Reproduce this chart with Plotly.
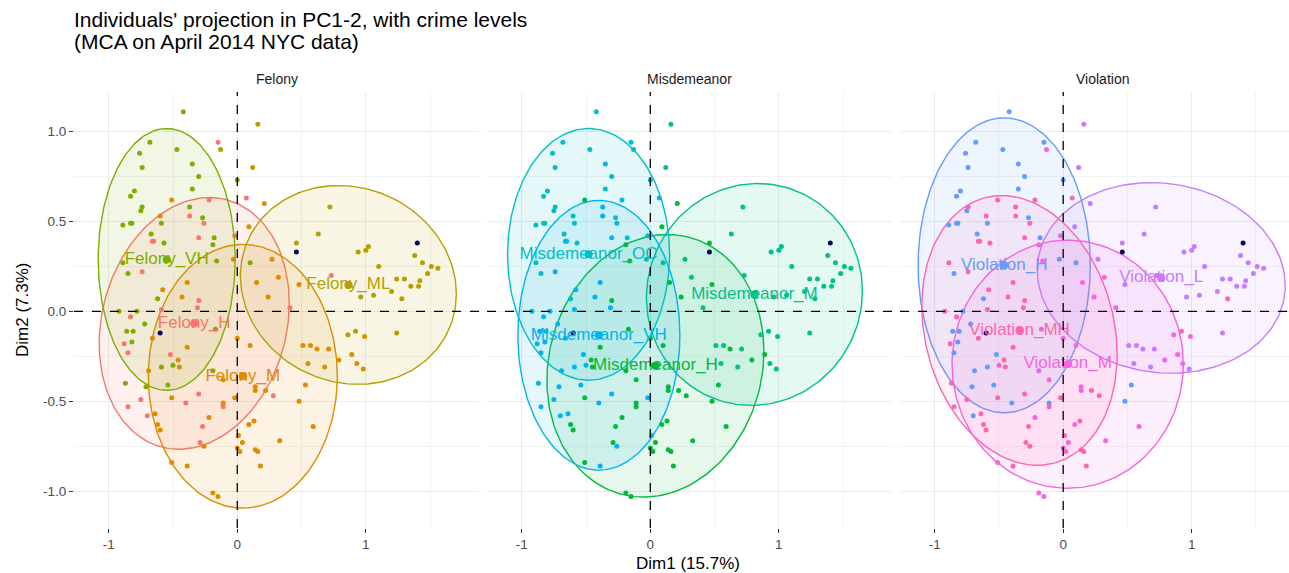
import numpy as np
import plotly.graph_objects as go

# ---------------- data ----------------
ind_x = [-0.42, 0.16, -0.15, -0.13, -0.68, -0.47, -0.76, -0.74, -0.35, 0.12,
         -0.30, 0.00, -0.35, -0.80, -0.83, -0.74, -0.75, -0.51, -0.22, 0.07,
         0.21, -0.37, -0.60, -0.37, -0.27, -0.89, -0.83, -0.82, -0.59, -0.26,
         0.09, 0.72, -0.67, -0.30, -0.18, -0.02, -0.66, -0.65, -0.57, -0.19,
         0.63, 0.46, 1.02, 1.00, 0.94, 1.38, 1.44, 1.51, 1.56, 1.48,
         1.10, 0.27, 0.10, -0.03, -0.16, -0.89, -0.85, -0.74, 0.15, 0.32,
         0.73, 0.48, 1.24, 1.30, 1.35, 1.42, 1.41, 1.20, 1.06, 0.96,
         1.28, -0.39, -0.58, -0.43, -0.62, 0.24, -0.30, 0.41, -0.31, -0.59,
         -0.78, -0.92, -0.83, -0.72, -0.86, -0.81, -0.17, -0.88, -0.82, -0.85,
         -0.66, -0.39, 0.00, 0.10, -0.52, -0.46, -0.50, -0.45, -0.59, -0.69,
         -0.19, 0.51, 0.57, 0.62, 0.71, 0.79, 0.55, 0.68, 0.86, 0.92,
         0.99, 1.24, 0.89, 0.93, 0.98, -0.87, -0.71, -0.54, -0.11, 0.14,
         0.22, 0.14, 0.53, 0.28, -0.02, -0.51, -0.75, -0.30, -0.40, -0.11,
         -0.11, -0.85, -0.70, -0.64, -0.22, 0.48, -0.62, -0.60, -0.27, 0.09,
         0.13, 0.59, 0.01, 0.04, 0.33, -0.29, -0.26, 0.00, 0.02, 0.14,
         0.16, -0.51, -0.39, 0.18, -0.19, -0.15]
ind_y = [1.11, 1.04, 0.94, 0.90, 0.94, 0.90, 0.88, 0.80, 0.82, 0.80,
         0.75, 0.73, 0.68, 0.67, 0.64, 0.58, 0.56, 0.62, 0.62, 0.63,
         0.60, 0.58, 0.53, 0.53, 0.52, 0.48, 0.49, 0.49, 0.49, 0.49,
         0.47, 0.58, 0.43, 0.41, 0.41, 0.42, 0.39, 0.39, 0.38, 0.37,
         0.43, 0.38, 0.36, 0.34, 0.33, 0.31, 0.27, 0.25, 0.24, 0.21,
         0.25, 0.29, 0.27, 0.29, 0.28, 0.27, 0.21, 0.22, 0.16, 0.19,
         0.20, 0.15, 0.18, 0.18, 0.14, 0.17, 0.14, 0.11, 0.09, 0.08,
         0.07, 0.16, 0.12, 0.08, 0.07, 0.08, 0.06, 0.02, 0.02, 0.01,
         0.00, 0.00, -0.03, -0.07, -0.11, -0.11, -0.10, -0.18, -0.17, -0.23,
         -0.15, -0.20, -0.15, -0.19, -0.24, -0.27, -0.30, -0.31, -0.31, -0.33,
         -0.33, -0.19, -0.19, -0.21, -0.21, -0.27, -0.29, -0.31, -0.13, -0.11,
         -0.14, -0.12, -0.24, -0.29, -0.32, -0.40, -0.42, -0.41, -0.38, -0.42,
         -0.44, -0.44, -0.41, -0.47, -0.48, -0.48, -0.49, -0.46, -0.51, -0.51,
         -0.53, -0.53, -0.58, -0.57, -0.59, -0.50, -0.63, -0.66, -0.64, -0.63,
         -0.61, -0.64, -0.69, -0.73, -0.72, -0.73, -0.75, -0.76, -0.78, -0.77,
         -0.78, -0.84, -0.86, -0.86, -1.01, -1.03]
felony = ["VH", "ML", "H", "ML", "VH", "VH", "VH", "VH", "VH", "ML",
          "VH", "VH", "VH", "VH", "VH", "VH", "VH", "M", "H", "H",
          "M", "VH", "M", "H", "VH", "VH", "VH", "VH", "VH", "H",
          "M", "ML", "VH", "H", "VH", "M", "H", "H", "VH", "VH",
          "ML", "ML", "ML", "ML", "ML", "ML", "ML", "ML", "ML", "ML",
          "ML", "M", "VH", "M", "VH", "VH", "VH", "H", "M", "M",
          "H", "M", "ML", "ML", "ML", "ML", "ML", "ML", "ML", "ML",
          "ML", "M", "M", "M", "VH", "M", "H", "H", "H", "H",
          "VH", "VH", "H", "VH", "VH", "VH", "VH", "H", "VH", "H",
          "M", "M", "M", "M", "H", "M", "VH", "M", "VH", "M",
          "VH", "M", "M", "M", "M", "M", "M", "M", "ML", "ML",
          "M", "ML", "M", "M", "M", "VH", "VH", "VH", "M", "M",
          "M", "M", "M", "H", "M", "M", "H", "H", "H", "M",
          "H", "H", "H", "M", "M", "M", "M", "M", "H", "M",
          "M", "M", "M", "M", "M", "H", "M", "M", "M", "M",
          "M", "M", "M", "M", "M", "M"]
misdemeanor = ["OC", "M", "OC", "OC", "OC", "OC", "OC", "OC", "VH", "M",
               "OC", "OC", "OC", "OC", "OC", "OC", "OC", "H", "VH", "VH",
               "H", "VH", "OC", "VH", "OC", "OC", "OC", "OC", "OC", "VH",
               "H", "M", "OC", "VH", "OC", "OC", "VH", "VH", "OC", "H",
               "M", "H", "M", "M", "M", "M", "M", "M", "M", "M",
               "M", "M", "M", "OC", "H", "OC", "OC", "VH", "H", "M",
               "M", "H", "M", "M", "M", "M", "M", "M", "M", "M",
               "M", "VH", "VH", "VH", "OC", "H", "H", "M", "VH", "VH",
               "VH", "OC", "VH", "VH", "VH", "OC", "H", "VH", "VH", "VH",
               "VH", "H", "H", "H", "VH", "H", "VH", "H", "VH", "VH",
               "H", "M", "M", "H", "M", "H", "M", "M", "M", "M",
               "M", "M", "H", "M", "M", "VH", "VH", "VH", "H", "H",
               "H", "H", "H", "H", "VH", "H", "VH", "VH", "VH", "H",
               "H", "VH", "VH", "VH", "H", "H", "H", "H", "H", "H",
               "H", "H", "VH", "H", "H", "H", "VH", "H", "H", "H",
               "H", "H", "VH", "H", "H", "H"]
violation = ["H", "L", "H", "M", "H", "H", "H", "H", "H", "L",
             "H", "H", "H", "H", "H", "MH", "H", "MH", "MH", "MH",
             "L", "MH", "MH", "MH", "H", "H", "H", "H", "H", "MH",
             "L", "L", "H", "MH", "H", "M", "MH", "MH", "MH", "M",
             "L", "L", "L", "L", "L", "L", "L", "L", "L", "L",
             "L", "L", "H", "H", "M", "MH", "H", "MH", "M", "M",
             "MH", "L", "L", "L", "L", "L", "L", "L", "L", "L",
             "MH", "MH", "MH", "MH", "H", "M", "MH", "M", "MH", "MH",
             "H", "MH", "MH", "H", "H", "H", "M", "MH", "H", "H",
             "MH", "MH", "M", "M", "H", "MH", "MH", "MH", "H", "H",
             "M", "L", "L", "L", "L", "M", "L", "L", "M", "MH",
             "M", "L", "M", "M", "L", "MH", "H", "H", "M", "M",
             "MH", "M", "H", "MH", "MH", "MH", "MH", "MH", "H", "H",
             "MH", "MH", "H", "MH", "M", "H", "MH", "MH", "MH", "M",
             "MH", "M", "MH", "M", "M", "MH", "MH", "M", "MH", "MH",
             "MH", "M", "MH", "MH", "M", "M"]

# individuals drawn in dark navy in every panel
navy_x = [0.46, 1.40, -0.60]
navy_y = [0.33, 0.38, -0.12]

facets = ["Felony", "Misdemeanor", "Violation"]
facet_levels = [["H", "M", "ML", "VH"], ["H", "M", "OC", "VH"], ["H", "L", "M", "MH"]]
facet_colors = [["#F8766D", "#DE8C00", "#B79F00", "#7CAE00"],
                ["#00BA38", "#00C08B", "#00BFC4", "#00B4F0"],
                ["#619CFF", "#C77CFF", "#F564E3", "#FF64B0"]]

# concentration ellipses: centre, half width, half height, correlation (in facet/level order)
ell_cx = [-0.335, 0.043, 0.864, -0.549, 0.04, 0.81, -0.48, -0.40, -0.459, 0.763, 0.035, -0.34]
ell_cy = [-0.067, -0.361, 0.147, 0.289, -0.303, 0.094, 0.317, -0.133, 0.256, 0.186, -0.294, -0.106]
ell_sx = [0.739, 0.735, 0.84, 0.533, 0.844, 0.84, 0.63, 0.63, 0.67, 0.965, 0.90, 0.76]
ell_sy = [0.70, 0.733, 0.553, 0.728, 0.73, 0.617, 0.70, 0.75, 0.82, 0.53, 0.69, 0.75]
ell_rho = [0.16, 0.0, -0.09, 0.0, 0.11, 0.03, 0.0, 0.0, 0.0, -0.08, 0.0, -0.18]

title_lines = ["Individuals' projection in PC1-2, with crime levels", "(MCA on April 2014 NYC data)"]

# ---------------- layout geometry ----------------
W, H = 1289, 573
panel_px = [(74, 479), (487, 892), (900, 1289)]
panel_full_w = 405
x_ranges = [[-1.27, 1.88], [-1.27, 1.88], [-1.27, -1.27 + (1289 - 900) / 128.5]]
y_range = [-1.205, 1.22]
y_dom = [1 - 528 / H, 1 - 92 / H]
FONT = "Liberation Sans, Arial, Helvetica, sans-serif"
TICK = 13.5

def rgba(hex_color, a):
    h = hex_color.lstrip("#")
    return "rgba(%d,%d,%d,%.2f)" % (int(h[0:2], 16), int(h[2:4], 16), int(h[4:6], 16), a)

fig = go.Figure()
t = np.linspace(0, 2 * np.pi, 200)
ix = np.array(ind_x)
iy = np.array(ind_y)
groups = [felony, misdemeanor, violation]

for f, name in enumerate(facets):
    xa = "x" if f == 0 else "x%d" % (f + 1)
    ya = "y" if f == 0 else "y%d" % (f + 1)
    lab = np.array(groups[f])
    # ellipses
    for k, lev in enumerate(facet_levels[f]):
        e = f * 4 + k
        col = facet_colors[f][k]
        ex = ell_cx[e] + ell_sx[e] * np.cos(t)
        ey = ell_cy[e] + ell_sy[e] * (ell_rho[e] * np.cos(t) + np.sqrt(1 - ell_rho[e] ** 2) * np.sin(t))
        fig.add_trace(go.Scatter(x=ex, y=ey, mode="lines", fill="toself",
                                 fillcolor=rgba(col, 0.10), line=dict(color=col, width=1.4),
                                 xaxis=xa, yaxis=ya, hoverinfo="skip", showlegend=False))
    # points
    for k, lev in enumerate(facet_levels[f]):
        col = facet_colors[f][k]
        m = lab == lev
        fig.add_trace(go.Scatter(x=ix[m], y=iy[m], mode="markers",
                                 marker=dict(color=col, size=5),
                                 xaxis=xa, yaxis=ya, showlegend=False))
    fig.add_trace(go.Scatter(x=navy_x, y=navy_y, mode="markers",
                             marker=dict(color="#0A0A60", size=5),
                             xaxis=xa, yaxis=ya, showlegend=False))
    # group means + labels
    for k, lev in enumerate(facet_levels[f]):
        e = f * 4 + k
        col = facet_colors[f][k]
        fig.add_trace(go.Scatter(x=[ell_cx[e]], y=[ell_cy[e]], mode="markers+text",
                                 marker=dict(color=col, size=8),
                                 text=["%s_%s" % (name, lev)], textposition="middle center",
                                 textfont=dict(color=col, size=17, family=FONT),
                                 xaxis=xa, yaxis=ya, showlegend=False))
    # dashed reference lines
    fig.add_shape(type="line", xref=xa, yref=ya + " domain", x0=0, x1=0, y0=0, y1=1,
                  line=dict(color="black", width=1.3, dash="dash"), layer="above")
    fig.add_shape(type="line", xref=xa + " domain", yref=ya, x0=0, x1=1, y0=0, y1=0,
                  line=dict(color="black", width=1.3, dash="dash"), layer="above")
    # strip label
    cx_px = panel_px[f][0] + panel_full_w / 2
    fig.add_annotation(text=name, x=cx_px / W, y=1 - 79 / H, xref="paper", yref="paper",
                       xanchor="center", yanchor="middle",
                       showarrow=False, font=dict(size=14, color="#1A1A1A", family=FONT))

grid = "#EBEBEB"
for f in range(3):
    xkey = "xaxis" if f == 0 else "xaxis%d" % (f + 1)
    ykey = "yaxis" if f == 0 else "yaxis%d" % (f + 1)
    anchor_y = "y" if f == 0 else "y%d" % (f + 1)
    anchor_x = "x" if f == 0 else "x%d" % (f + 1)
    fig.layout[xkey] = dict(domain=[panel_px[f][0] / W, panel_px[f][1] / W], range=x_ranges[f],
                            anchor=anchor_y, tickvals=[-1, 0, 1], ticktext=["-1", "0", "1"],
                            showgrid=True, gridcolor=grid, gridwidth=1, zeroline=False,
                            ticks="outside", ticklen=4, tickcolor="#333333",
                            tickfont=dict(size=TICK, color="#4D4D4D", family=FONT),
                            minor=dict(tickvals=[-0.5, 0.5, 1.5], showgrid=True,
                                       gridcolor="#F3F3F3", gridwidth=1),
                            showline=False, fixedrange=True)
    fig.layout[ykey] = dict(domain=y_dom, range=y_range, anchor=anchor_x,
                            tickvals=[-1, -0.5, 0, 0.5, 1],
                            ticktext=["-1.0", "-0.5", "0.0", "0.5", "1.0"],
                            showticklabels=(f == 0), ticks="outside" if f == 0 else "",
                            ticklen=4, tickcolor="#333333",
                            showgrid=True, gridcolor=grid, gridwidth=1, zeroline=False,
                            tickfont=dict(size=TICK, color="#4D4D4D", family=FONT),
                            minor=dict(tickvals=[-0.75, -0.25, 0.25, 0.75], showgrid=True,
                                       gridcolor="#F3F3F3", gridwidth=1),
                            showline=False, fixedrange=True)

for line, ypx in zip(title_lines, [19, 42]):
    fig.add_annotation(text=line, x=72 / W, y=1 - ypx / H, xref="paper", yref="paper",
                       xanchor="left", yanchor="middle", showarrow=False,
                       font=dict(size=21, color="black", family=FONT))
fig.add_annotation(text="Dim1 (15.7%)", x=688 / W, y=1 - 563 / H, xref="paper", yref="paper",
                   xanchor="center", yanchor="middle",
                   showarrow=False, font=dict(size=17, color="black", family=FONT))
fig.add_annotation(text="Dim2 (7.3%)", x=22 / W, y=1 - 310 / H, xref="paper", yref="paper",
                   xanchor="center", yanchor="middle",
                   textangle=-90, showarrow=False, font=dict(size=17, color="black", family=FONT))

fig.update_layout(width=W, height=H, margin=dict(l=0, r=0, t=0, b=0),
                  paper_bgcolor="white", plot_bgcolor="white",
                  font=dict(family=FONT), showlegend=False)

fig.write_html("out.html")
